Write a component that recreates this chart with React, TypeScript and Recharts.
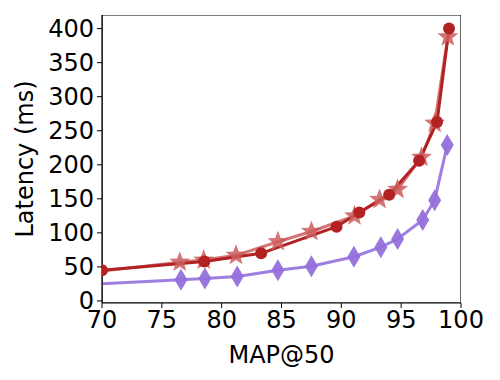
import React from "react"
import { LineChart, Line, XAxis, YAxis, Label, ReferenceArea } from "recharts"

const xTicks = [70, 75, 80, 85, 90, 95, 100]
const yTicks = [0, 50, 100, 150, 200, 250, 300, 350, 400]

// MAP@50 / latency pairs
const circleMap = [70, 78.55, 83.3, 89.6, 91.5, 94.0, 96.5, 98.0, 99.0]
const circleLatency = [45, 58, 70, 109, 130, 156, 206, 263, 400]

const starMap = [68, 76.5, 78.5, 81.2, 84.7, 87.5, 91.1, 93.2, 94.7, 96.7, 97.8, 98.9]
const starLatency = [40, 57, 60, 67, 87, 102, 125, 149, 164, 211, 261, 388]

const diamondMap = [65, 76.6, 78.6, 81.3, 84.7, 87.5, 91.05, 93.3, 94.7, 96.8, 97.8, 98.85]
const diamondLatency = [21, 31, 33, 36, 45, 51, 65, 79, 91, 119, 148, 229]

const toRows = (xs: number[], ys: number[]) => xs.map((x, i) => ({ x, y: ys[i] }))

const circles = toRows(circleMap, circleLatency)
const stars = toRows(starMap, starLatency)
const diamonds = toRows(diamondMap, diamondLatency)

const DARK = "#b22222"
const LIGHT = "#cd5c5c"
const PURPLE = "#9370db"
const FONT = "'DejaVu Sans', sans-serif"
const FS = 24

function CircleDot(props: any) {
  const { cx, cy, key } = props
  if (cx == null || cy == null) return null
  return <circle key={key} cx={cx} cy={cy} r={6} fill={DARK} />
}

function StarDot(props: any) {
  const { cx, cy, key } = props
  if (cx == null || cy == null) return null
  const pts: string[] = []
  for (let i = 0; i < 10; i++) {
    const r = i % 2 === 0 ? 11 : 4.6
    const a = -Math.PI / 2 + (i * Math.PI) / 5
    pts.push(`${cx + r * Math.cos(a)},${cy + r * Math.sin(a)}`)
  }
  return <polygon key={key} points={pts.join(" ")} fill={LIGHT} fillOpacity={0.85} />
}

function DiamondDot(props: any) {
  const { cx, cy, key } = props
  if (cx == null || cy == null) return null
  const pts = `${cx},${cy - 11} ${cx + 6.5},${cy} ${cx},${cy + 11} ${cx - 6.5},${cy}`
  return <polygon key={key} points={pts} fill={PURPLE} fillOpacity={0.95} />
}

export default function App() {
  return (
    <div style={{ position: "absolute", left: 0, top: 0, width: 500, height: 380, background: "#fff" }}>
      <LineChart width={500} height={380} margin={{ top: 15, right: 39, bottom: 0, left: 0 }}>
        <XAxis
          type="number"
          dataKey="x"
          domain={[70, 100]}
          ticks={xTicks}
          allowDataOverflow
          height={77}
          stroke="#000"
          tickSize={5}
          tickMargin={3}
          tick={{ fill: "#000", fontSize: FS, fontFamily: FONT }}
          axisLine={{ stroke: "#000", strokeWidth: 1.2 }}
        >
          <Label
            value="MAP@50"
            position="insideBottom"
            offset={17}
            style={{ fill: "#000", fontSize: FS, fontFamily: FONT }}
          />
        </XAxis>
        <YAxis
          type="number"
          dataKey="y"
          domain={[-3, 420]}
          ticks={yTicks}
          allowDataOverflow
          width={102}
          stroke="#000"
          tickSize={5}
          tickMargin={3}
          tick={{ fill: "#000", fontSize: FS, fontFamily: FONT }}
          axisLine={{ stroke: "#000", strokeWidth: 1.2 }}
        >
          <Label
            content={(p: any) => {
              const vb = p.viewBox || {}
              const cx = 25
              const cy = (vb.y ?? 15) + (vb.height ?? 288) / 2
              return (
                <text
                  x={cx}
                  y={cy}
                  transform={`rotate(-90 ${cx} ${cy})`}
                  textAnchor="middle"
                  dominantBaseline="central"
                  fill="#000"
                  fontSize={FS}
                  fontFamily={FONT}
                >
                  Latency (ms)
                </text>
              )
            }}
          />
        </YAxis>
        <ReferenceArea x1={70} x2={100} y1={-3} y2={420} fill="none" stroke="#000" strokeWidth={1.2} ifOverflow="hidden" />
        <Line
          data={diamonds}
          dataKey="y"
          type="linear"
          stroke={PURPLE}
          strokeWidth={3}
          strokeOpacity={0.9}
          dot={DiamondDot}
          activeDot={false}
          isAnimationActive={false}
        />
        <Line
          data={stars}
          dataKey="y"
          type="linear"
          stroke={LIGHT}
          strokeWidth={3}
          strokeOpacity={0.85}
          dot={StarDot}
          activeDot={false}
          isAnimationActive={false}
        />
        <Line
          data={circles}
          dataKey="y"
          type="linear"
          stroke={DARK}
          strokeWidth={3}
          dot={CircleDot}
          activeDot={false}
          isAnimationActive={false}
        />
      </LineChart>
    </div>
  )
}
